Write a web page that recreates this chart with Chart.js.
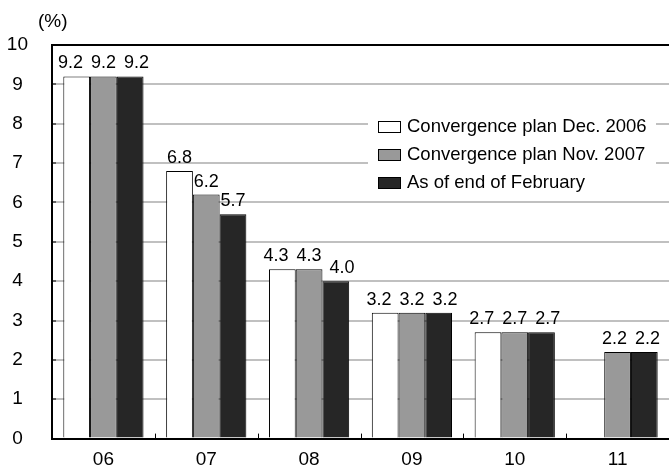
<!DOCTYPE html>
<html lang="en">
<head>
    <meta charset="UTF-8">
    <title>Convergence plan</title>
    <script src="https://cdn.jsdelivr.net/npm/chart.js@4"></script>
    <style>
        html, body { margin: 0; padding: 0; background: #fff; }
        #wrap { width: 669px; height: 474px; position: relative; }
    </style>
</head>
<body>
<div id="wrap"><canvas id="myChart" width="669" height="474"></canvas></div>
<script>
    // values
    const years = ['06', '07', '08', '09', '10', '11'];
    const planDec2006 = [9.2, 6.8, 4.3, 3.2, 2.7, null];
    const planNov2007 = [9.2, 6.2, 4.3, 3.2, 2.7, 2.2];
    const endOfFeb = [9.2, 5.7, 4.0, 3.2, 2.7, 2.2];
    const seriesNames = ['Convergence plan Dec. 2006', 'Convergence plan Nov. 2007', 'As of end of February'];
    const seriesColors = ['#ffffff', '#999999', '#262626'];

    const FONT = 'Arial, "Liberation Sans", sans-serif';

    // frame line on top, little inward ticks, legend box, value labels
    const extras = {
        id: 'extras',
        beforeDatasetsDraw(chart) {
            const ctx = chart.ctx;
            const a = chart.chartArea;
            const x = chart.scales.x;
            const y = chart.scales.y;
            ctx.save();
            ctx.strokeStyle = '#000';
            ctx.lineWidth = 1;
            ctx.beginPath();
            for (let i = 1; i < years.length; i++) {
                const px = Math.round((x.getPixelForTick(i - 1) + x.getPixelForTick(i)) / 2) + 0.5;
                ctx.moveTo(px, a.bottom);
                ctx.lineTo(px, a.bottom - 5);
            }
            for (let v = 1; v < 10; v++) {
                const py = Math.round(y.getPixelForValue(v));
                ctx.moveTo(a.left, py);
                ctx.lineTo(a.left + 4, py);
            }
            ctx.stroke();
            ctx.restore();
        },
        afterDatasetsDraw(chart) {
            const ctx = chart.ctx;
            const a = chart.chartArea;
            ctx.save();
            // top line
            ctx.strokeStyle = '#000';
            ctx.lineWidth = 2;
            ctx.beginPath();
            ctx.moveTo(a.left - 1, a.top);
            ctx.lineTo(a.right, a.top);
            ctx.stroke();

            // value labels, nudged apart when they bump into each other
            ctx.fillStyle = '#000';
            ctx.font = '18px ' + FONT;
            ctx.textAlign = 'center';
            ctx.textBaseline = 'bottom';
            years.forEach((yr, i) => {
                const labels = [];
                chart.data.datasets.forEach((ds, di) => {
                    const v = ds.data[i];
                    if (v == null) return;
                    const bar = chart.getDatasetMeta(di).data[i];
                    const txt = v.toFixed(1);
                    labels.push({ txt, x: bar.x, y: bar.y - 4, w: ctx.measureText(txt).width });
                });
                for (let it = 0; it < 10; it++) {
                    for (let k = 0; k < labels.length - 1; k++) {
                        const l1 = labels[k], l2 = labels[k + 1];
                        if (Math.abs(l1.y - l2.y) > 15) continue;
                        const need = (l1.w + l2.w) / 2 + 8;
                        const d = l2.x - l1.x;
                        if (d < need) {
                            const push = (need - d) / 2;
                            l1.x -= push;
                            l2.x += push;
                        }
                    }
                }
                labels.forEach(l => ctx.fillText(l.txt, l.x, l.y));
            });

            // legend
            ctx.fillStyle = '#fff';
            ctx.fillRect(368, 112, 288, 82);
            ctx.font = '18.5px ' + FONT;
            ctx.textAlign = 'left';
            ctx.textBaseline = 'middle';
            const rows = [127, 155, 183];
            seriesNames.forEach((name, i) => {
                ctx.fillStyle = seriesColors[i];
                ctx.fillRect(378, rows[i] - 6, 23, 12);
                ctx.strokeStyle = '#000';
                ctx.lineWidth = 1;
                ctx.strokeRect(378.5, rows[i] - 5.5, 22, 11);
                ctx.fillStyle = '#000';
                ctx.fillText(name, 407, rows[i]);
            });

            // unit
            ctx.font = '19px ' + FONT;
            ctx.textAlign = 'left';
            ctx.fillText('(%)', 38, 22);
            ctx.restore();
        }
    };

    const datasets = [planDec2006, planNov2007, endOfFeb].map((arr, i) => ({
        label: seriesNames[i],
        data: arr,
        backgroundColor: seriesColors[i],
        borderColor: '#000',
        borderWidth: 1,
        barPercentage: 1.0,
        categoryPercentage: 0.78
    }));

    new Chart(document.getElementById('myChart'), {
        type: 'bar',
        data: { labels: years, datasets: datasets },
        options: {
            responsive: false,
            animation: false,
            layout: { padding: { top: 45, left: 0, right: 0, bottom: 0 } },
            plugins: { legend: { display: false }, tooltip: { enabled: false } },
            scales: {
                x: {
                    grid: { display: false, drawTicks: false },
                    border: { color: '#000', width: 2 },
                    ticks: { color: '#000', font: { family: FONT, size: 19 }, padding: 10 },
                    afterFit(scale) { scale.height = 32; }
                },
                y: {
                    min: 0,
                    max: 10,
                    grid: {
                        color: (c) => (c.tick.value === 0 || c.tick.value === 10) ? 'rgba(0,0,0,0)' : '#c0c0c0',
                        lineWidth: 2,
                        drawTicks: false
                    },
                    border: { color: '#000', width: 2 },
                    ticks: { stepSize: 1, color: '#000', font: { family: FONT, size: 19 }, padding: 24, crossAlign: 'center' },
                    afterFit(scale) { scale.width = 52; }
                }
            }
        },
        plugins: [extras]
    });
</script>
</body>
</html>
